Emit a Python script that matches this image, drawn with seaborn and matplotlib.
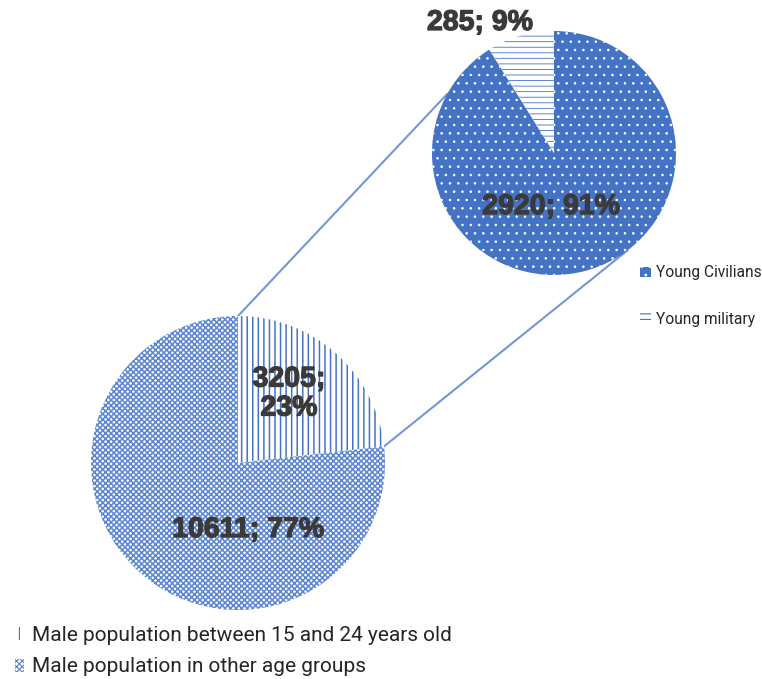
import numpy as np
import matplotlib
matplotlib.use("Agg")
import matplotlib.pyplot as plt
import matplotlib.patheffects as pe
import seaborn as sns

# data
main_labels = ["Male population between 15 and 24 years old",
               "Male population in other age groups"]
main_values = [3205, 10611]
sub_labels = ["Young Civilians", "Young military"]
sub_values = [2920, 285]

sns.set_theme(style="white")
plt.rcParams['font.family'] = ['Roboto', 'DejaVu Sans']

W, H = 762, 679
fig = plt.figure(figsize=(W / 100, H / 100), dpi=100)
ax = fig.add_axes([0, 0, 1, 1])
ax.set_xlim(0, W)
ax.set_ylim(0, H)
ax.set_aspect("equal")
ax.axis("off")

blue = "#4472C4"
line_blue = "#7597D6"

# pie geometry (pixels, y up)
big_c, big_r = (238, H - 463), 147
small_c, small_r = (554, H - 153), 122


def pct(vals):
    tot = sum(vals)
    return [round(v / tot * 100) for v in vals]


# big pie
plt.rcParams['hatch.linewidth'] = 1.1
wedges_big, _ = ax.pie(main_values, startangle=90, counterclock=False,
                       center=big_c, radius=big_r, frame=True,
                       wedgeprops=dict(linewidth=0))
wedges_big[0].set_facecolor("white")
wedges_big[0].set_edgecolor(blue)
wedges_big[0].set_hatch("|||")
plt.rcParams['hatch.linewidth'] = 0.6
wedges_big[1].set_facecolor("white")
wedges_big[1].set_edgecolor("#5B85D0")
wedges_big[1].set_hatch("xxxxxx")

# small pie
plt.rcParams['hatch.linewidth'] = 0.6
wedges_small, _ = ax.pie(sub_values, startangle=90, counterclock=False,
                         center=small_c, radius=small_r, frame=True,
                         wedgeprops=dict(linewidth=0))
wedges_small[0].set_facecolor(blue)
wedges_small[0].set_edgecolor("white")
wedges_small[0].set_hatch("..")
plt.rcParams['hatch.linewidth'] = 0.8
wedges_small[1].set_facecolor("white")
wedges_small[1].set_edgecolor(blue)
wedges_small[1].set_hatch("---")

ax.set_xlim(0, W)
ax.set_ylim(0, H)
ax.axis("off")

# connector lines
w0 = wedges_big[0]
angs_big = [max(w0.theta1, w0.theta2), min(w0.theta1, w0.theta2)]
angs_small = [151, -53]
for ab, as_ in zip(angs_big, angs_small):
    x0 = big_c[0] + big_r * np.cos(np.radians(ab))
    y0 = big_c[1] + big_r * np.sin(np.radians(ab))
    x1 = small_c[0] + small_r * np.cos(np.radians(as_))
    y1 = small_c[1] + small_r * np.sin(np.radians(as_))
    ax.plot([x0, x1], [y0, y1], color=line_blue, lw=1.5, zorder=0.5)

# data labels
mp = pct(main_values)
sp = pct(sub_values)
lab_style = dict(ha="center", va="center", fontsize=20.5, fontweight="bold",
                 color="#3A3A3A", family=["Liberation Sans", "DejaVu Sans"],
                 path_effects=[pe.withStroke(linewidth=0.9, foreground="#3A3A3A")])
ax.text(289, H - 394, f"{main_values[0]};\n{mp[0]}%", linespacing=1.15, **lab_style)
ax.text(248, H - 530, f"{main_values[1]}; {mp[1]}%", **lab_style)
ax.text(551, H - 207, f"{sub_values[0]}; {sp[0]}%", **lab_style)
ax.text(480, H - 23, f"{sub_values[1]}; {sp[1]}%", **lab_style)

# legends
leg1 = fig.legend(wedges_small, sub_labels, loc="upper left",
                  bbox_to_anchor=(640 / W, 1 - 265.5 / H), frameon=False,
                  fontsize=11.2, borderpad=0, borderaxespad=0,
                  handlelength=0.7, handleheight=0.7, handletextpad=0.35,
                  labelspacing=2.05, labelcolor="#262626")
leg2 = fig.legend(wedges_big, main_labels, loc="upper left",
                  bbox_to_anchor=(15 / W, 1 - 626 / H), frameon=False,
                  fontsize=15, borderpad=0, borderaxespad=0,
                  handlelength=0.42, handleheight=0.6, handletextpad=0.42,
                  labelspacing=0.6, labelcolor="#262626")

fig.savefig("out.png", dpi=100)
